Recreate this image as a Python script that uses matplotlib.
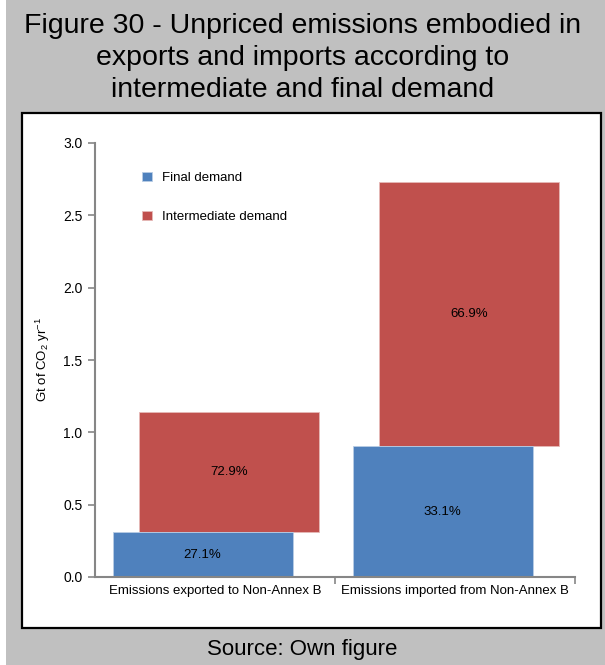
import numpy as np
import matplotlib
matplotlib.use('Agg')
import matplotlib.pyplot as plt
from matplotlib.patches import Rectangle

plt.rcParams['font.family'] = ['Liberation Sans', 'DejaVu Sans']
plt.rcParams['mathtext.fontset'] = 'custom'
plt.rcParams['mathtext.rm'] = 'Liberation Sans'
plt.rcParams['mathtext.it'] = 'Liberation Sans:italic'
plt.rcParams['mathtext.bf'] = 'Liberation Sans:bold'

# ── Data ─────────────────────────────────────────────────────────────
categories   = ["Emissions exported to Non-Annex B", "Emissions imported from Non-Annex B"]
final_demand = [0.31, 0.905]
inter_demand = [0.83, 1.825]
final_pct    = ["27.1%", "33.1%"]
inter_pct    = ["72.9%", "66.9%"]
yticks       = [0.0, 0.5, 1.0, 1.5, 2.0, 2.5, 3.0]

blue = "#4f81bd"
red  = "#c0504d"
axis_grey = "#868686"

W, H = 605, 665
fig = plt.figure(figsize=(W / 100, H / 100), dpi=100)
fig.patch.set_facecolor("#c0c0c0")

# white strip on the left edge, white panel with black border
fig.add_artist(Rectangle((0, 0), 6 / W, 1, transform=fig.transFigure,
                         facecolor="white", edgecolor="none", zorder=0))
fig.add_artist(Rectangle((22 / W, 1 - 628 / H), (601 - 22) / W, (628 - 113) / H,
                         transform=fig.transFigure, facecolor="white",
                         edgecolor="black", linewidth=1.6, zorder=0))

fig.text(0.5, 1 - 58 / H,
         "Figure 30 - Unpriced emissions embodied in\nexports and imports according to\nintermediate and final demand",
         ha="center", va="center", fontsize=20.5, linespacing=1.32)
fig.text(0.5, 1 - 650 / H, "Source: Own figure", ha="center", va="center", fontsize=16)

ax = fig.add_axes([95 / W, 1 - 577 / H, 480 / W, 434 / H])
ax.set_facecolor("none")

x = np.arange(len(categories))
width = 0.75
x_final = x - 0.052
x_inter = x + 0.058

ax.bar(x_final, final_demand, width, color=blue, edgecolor="#b9cde5",
       linewidth=0.6, label="Final demand", zorder=2)
ax.bar(x_inter, inter_demand, width, bottom=final_demand, color=red,
       edgecolor="#e6b9b8", linewidth=0.6, label="Intermediate demand", zorder=1)

for i in range(len(categories)):
    ax.text(x_final[i], final_demand[i] / 2, final_pct[i], ha="center",
            va="center", fontsize=9.5, zorder=3)
    ax.text(x_inter[i], final_demand[i] + inter_demand[i] / 2, inter_pct[i],
            ha="center", va="center", fontsize=9.5, zorder=3)

ax.set_xlim(-0.5, 1.5)
ax.set_ylim(0, 3.0)
ax.set_yticks(yticks)
ax.set_yticklabels([f"{v:.1f}" for v in yticks], fontsize=10)
ax.set_xticks([0.5, 1.5], minor=False)
ax.set_xticklabels([])
ax.set_xticks(x, minor=True)
ax.set_xticklabels(categories, minor=True, fontsize=9.5)
ax.tick_params(axis="x", which="minor", length=0, pad=6)
ax.tick_params(axis="x", which="major", length=5, color=axis_grey, width=1.2)
ax.tick_params(axis="y", length=5, color=axis_grey, width=1.2, pad=4)

for s in ["top", "right"]:
    ax.spines[s].set_visible(False)
for s in ["left", "bottom"]:
    ax.spines[s].set_color(axis_grey)
    ax.spines[s].set_linewidth(1.5)

ax.set_ylabel("Gt of CO$_2$ yr$^{-1}$", fontsize=9.5, labelpad=8)

leg = ax.legend(loc="upper left", bbox_to_anchor=(0.074, 0.96), frameon=False,
                handlelength=0.7, handleheight=0.7, handletextpad=0.8,
                labelspacing=2.0, fontsize=9.5)

fig.savefig("out.png", dpi=100, facecolor=fig.get_facecolor())
